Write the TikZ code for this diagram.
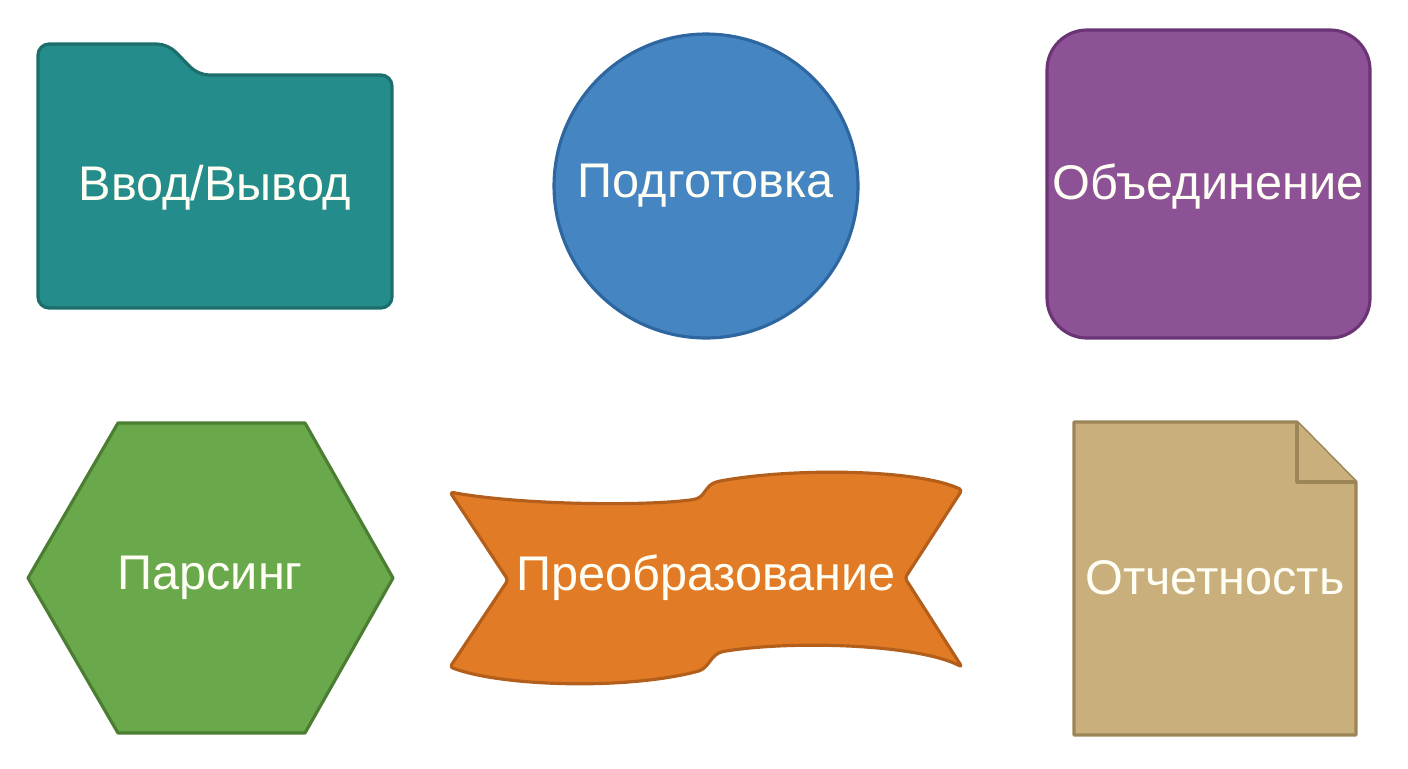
\documentclass[tikz,border=0pt]{standalone}
\usepackage{fontspec}
\setmainfont{Liberation Sans}
\usepackage{xcolor}
\usetikzlibrary{positioning}

\definecolor{tealfill}{HTML}{248C8A}
\definecolor{tealline}{HTML}{1B6E6C}
\definecolor{bluefill}{HTML}{4585C2}
\definecolor{blueline}{HTML}{2E66A0}
\definecolor{purplefill}{HTML}{8D5195}
\definecolor{purpleline}{HTML}{6B3575}
\definecolor{greenfill}{HTML}{6AA84C}
\definecolor{greenline}{HTML}{4B7E33}
\definecolor{orangefill}{HTML}{E27B25}
\definecolor{orangeline}{HTML}{B35F1B}
\definecolor{tanfill}{HTML}{C9AF7B}
\definecolor{tanline}{HTML}{9C8556}

\begin{document}
\begin{tikzpicture}[
				x=0.02cm, y=-0.02cm,
				% Defining shape and text styles
				shapebox/.style={line width=1.8pt, line join=round},
				shapetext/.style={font=\fontsize{27.7}{32}\selectfont, text=white!96!yellow}
			]
			\useasboundingbox (0,0) rectangle (1408,768);

			% Folder
			\draw[shapebox, fill=tealfill, draw=tealline, rounded corners=0.22cm]
				(38,44) -- (168,44) -- (198,75) -- (392,75) -- (392,308) -- (38,308) -- cycle;
			% Circle
			\draw[shapebox, fill=bluefill, draw=blueline] (706,186) circle[radius=3.04cm];
			% Rounded square
			\draw[shapebox, fill=purplefill, draw=purpleline, rounded corners=0.8cm]
				(1047,30) rectangle (1370,338);

			% Hexagon
			\draw[shapebox, fill=greenfill, draw=greenline]
				(28,578) -- (118,423) -- (305,423) -- (393,578) -- (305,733) -- (118,733) -- cycle;
			% Ribbon
			\draw[shapebox, fill=orangefill, draw=orangeline, rounded corners=0.06cm]
				(450,492) .. controls (520,505) and (640,506) .. (690,500)
				.. controls (706,498) and (704,485) .. (720,481)
				.. controls (800,467) and (920,470) .. (962,490)
				-- (905,578) -- (962,667)
				.. controls (920,645) and (800,640) .. (726,651)
				.. controls (710,654) and (710,668) .. (695,672)
				.. controls (620,690) and (500,686) .. (450,667)
				-- (508,580) -- cycle;
			% Document
			\draw[shapebox, fill=tanfill, draw=tanline]
				(1074,422) -- (1297,422) -- (1356,482) -- (1356,735) -- (1074,735) -- cycle;
			\draw[shapebox, fill=tanfill, draw=tanline]
				(1297,422) -- (1297,482) -- (1356,482);

			% Texts
			\node[shapetext] (io) at (215,188) {Ввод/Вывод};
			\node[shapetext] (prep) at (706,186) {Подготовка};
			\node[shapetext] (merge) at (1208,186) {Объединение};
			\node[shapetext] (parse) at (210,578) {Парсинг};
			\node[shapetext] (trans) at (706,578) {Преобразование};
			\node[shapetext] (report) at (1215,578) {Отчетность};

		\end{tikzpicture}
\end{document}
